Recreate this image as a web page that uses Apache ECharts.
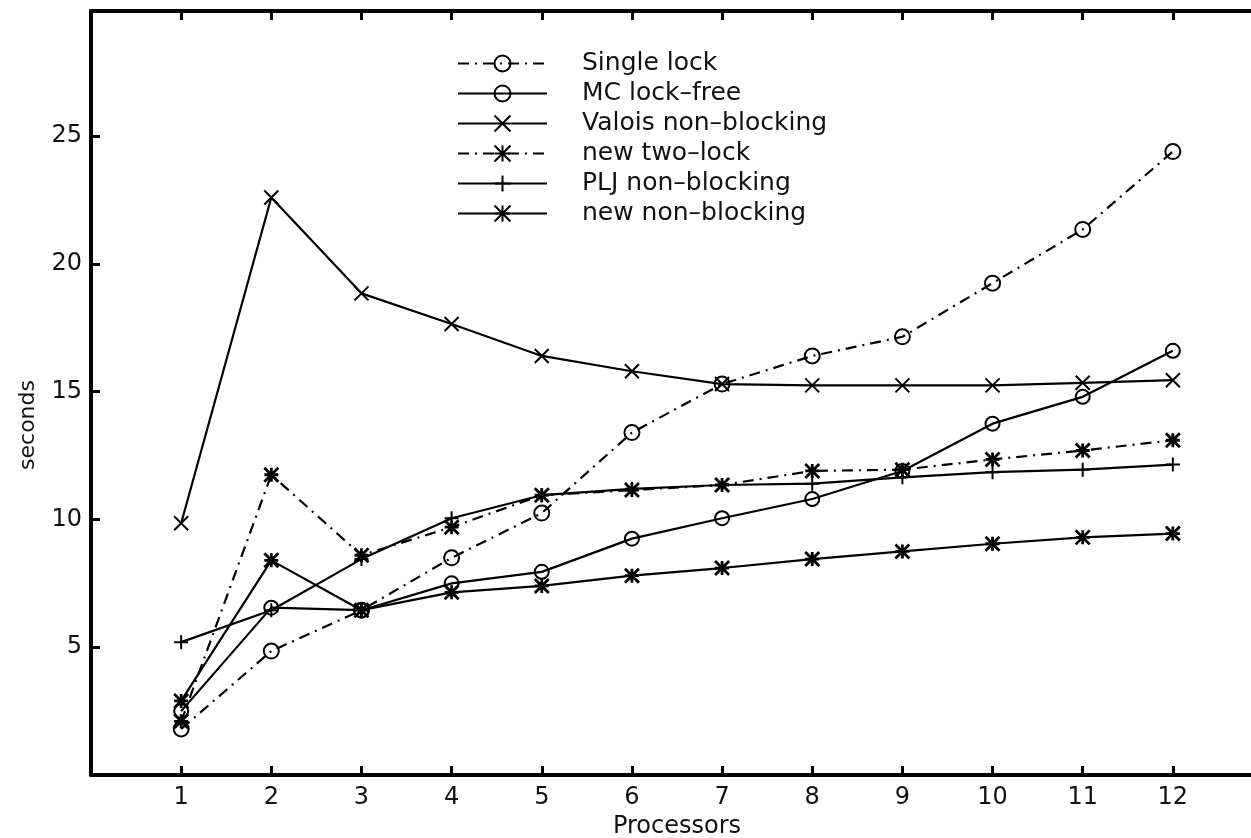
<!DOCTYPE html>
<html>
<head>
<meta charset="utf-8">
<script src="https://cdn.jsdelivr.net/npm/echarts@6/dist/echarts.min.js"></script>
<style>
html,body{margin:0;padding:0;background:#fff;}
#main{width:1251px;height:838px;}
</style>
</head>
<body>
<div id="main"></div>
<script>
const processors = [1, 2, 3, 4, 5, 6, 7, 8, 9, 10, 11, 12];
const seriesNames = ['Single lock', 'MC lock\u2013free', 'Valois non\u2013blocking', 'new two\u2013lock', 'PLJ non\u2013blocking', 'new non\u2013blocking'];
const singleLock = [1.8, 4.85, 6.45, 8.5, 10.25, 13.4, 15.3, 16.4, 17.15, 19.25, 21.35, 24.4];
const mcLockFree = [2.5, 6.55, 6.45, 7.5, 7.95, 9.25, 10.05, 10.8, 11.9, 13.75, 14.8, 16.6];
const valoisNonBlocking = [9.85, 22.6, 18.85, 17.65, 16.4, 15.8, 15.3, 15.25, 15.25, 15.25, 15.35, 15.45];
const newTwoLock = [2.1, 11.75, 8.6, 9.7, 10.95, 11.15, 11.35, 11.9, 11.95, 12.35, 12.7, 13.1];
const pljNonBlocking = [5.2, 6.45, 8.45, 10.05, 10.95, 11.2, 11.35, 11.4, 11.65, 11.85, 11.95, 12.15];
const newNonBlocking = [2.9, 8.4, 6.45, 7.15, 7.4, 7.8, 8.1, 8.45, 8.75, 9.05, 9.3, 9.45];
const yTicks = [5, 10, 15, 20, 25];

const pairs = arr => processors.map((p, i) => [p, arr[i]]);
const DASHDOT = [11, 6, 2, 6];
const CROSS = 'path://M0,0L10,10M10,0L0,10';
const PLUS = 'path://M5,0L5,10M0,5L10,5';
const STAR = 'path://M0,0L10,10M10,0L0,10M5,0L5,10M0,5L10,5';
const FONT = 'DejaVu Sans';

function mk(name, data, dash, symbol, size, symStyle) {
  return {
    name: name,
    type: 'line',
    data: pairs(data),
    symbol: symbol,
    symbolSize: size,
    showAllSymbol: true,
    lineStyle: { color: '#000', width: 2.2, type: dash ? DASHDOT : 'solid' },
    itemStyle: symStyle,
    emphasis: { disabled: true },
    animation: false
  };
}
const ringStyle = { color: 'rgba(0,0,0,0)', borderColor: '#000', borderWidth: 2 };
const strokeStyle = { color: '#000', borderColor: '#000', borderWidth: 2 };
const starStyle = { color: '#000', borderColor: '#000', borderWidth: 2.8 };

const chart = echarts.init(document.getElementById('main'));
chart.setOption({
  backgroundColor: '#fff',
  animation: false,
  grid: { left: 91, right: -12, top: 11, bottom: 63, containLabel: false, outerBoundsMode: 'none' },
  legend: {
    orient: 'vertical',
    left: 452,
    top: 46,
    itemWidth: 89,
    itemHeight: 20,
    itemGap: 5,
    data: seriesNames,
    textStyle: { fontFamily: FONT, fontSize: 25, color: '#111', padding: [0, 0, 0, 30] }
  },
  xAxis: [{
    type: 'value', min: 0, max: 13, interval: 1,
    name: 'Processors', nameLocation: 'middle', nameGap: 39,
    nameTextStyle: { fontFamily: FONT, fontSize: 24, color: '#111', padding: [0, 0, 0, 0] },
    axisLine: { show: true, onZero: false, lineStyle: { color: '#000', width: 4 } },
    axisTick: { show: true, inside: true, length: 9, lineStyle: { color: '#000', width: 3 } },
    axisLabel: { margin: 11, fontFamily: FONT, fontSize: 24, color: '#111',
      formatter: v => (v >= 1 && v <= 12 && Number.isInteger(v)) ? String(v) : '' },
    splitLine: { show: false }
  }, {
    type: 'value', position: 'top', min: 0, max: 13, interval: 1,
    axisLine: { show: true, onZero: false, lineStyle: { color: '#000', width: 4 } },
    axisTick: { show: true, inside: true, length: 9, lineStyle: { color: '#000', width: 3 } },
    axisLabel: { show: false },
    splitLine: { show: false }
  }],
  yAxis: {
    type: 'value', min: 0, max: 29.9, interval: 5,
    name: 'seconds', nameLocation: 'middle', nameGap: 52, nameRotate: 90,
    nameTextStyle: { fontFamily: FONT, fontSize: 22, color: '#111', padding: [0, 64, 0, 0] },
    axisLine: { show: true, onZero: false, lineStyle: { color: '#000', width: 4 } },
    axisTick: { show: true, inside: true, length: 9, lineStyle: { color: '#000', width: 3 } },
    axisLabel: { margin: 9, fontFamily: FONT, fontSize: 24, color: '#111',
      formatter: v => yTicks.indexOf(v) >= 0 ? String(v) : '' },
    splitLine: { show: false }
  },
  series: [
    mk(seriesNames[0], singleLock, true, 'circle', 15, ringStyle),
    mk(seriesNames[1], mcLockFree, false, 'circle', 14, ringStyle),
    mk(seriesNames[2], valoisNonBlocking, false, CROSS, 14, strokeStyle),
    mk(seriesNames[3], newTwoLock, true, STAR, 14, starStyle),
    mk(seriesNames[4], pljNonBlocking, false, PLUS, 14, strokeStyle),
    mk(seriesNames[5], newNonBlocking, false, STAR, 14, starStyle)
  ]
});
</script>
</body>
</html>
